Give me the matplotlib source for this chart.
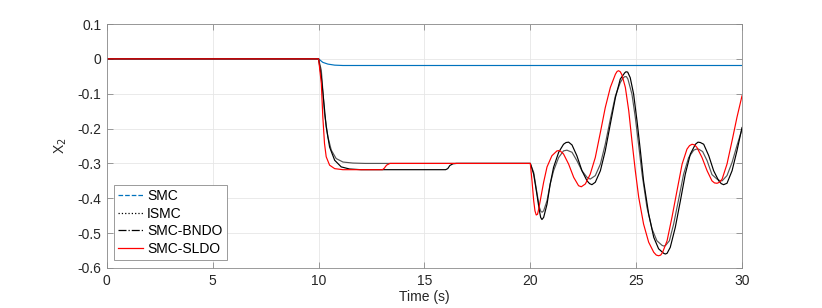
import matplotlib
matplotlib.use("Agg")
import matplotlib.pyplot as plt
from matplotlib.lines import Line2D

plt.rcParams["font.family"] = ["Liberation Sans", "DejaVu Sans"]
plt.rcParams["axes.unicode_minus"] = False

# SMC (blue)
smc_t = [0, 10, 10.2, 10.44, 10.76, 11.15, 11.6, 30]
smc_y = [0, 0, -0.010, -0.015, -0.018, -0.019, -0.019, -0.019]

# ISMC (grey, dotted)
ismc_t = [0, 10, 10.13, 10.2, 10.28, 10.44, 10.6, 10.83, 11.15, 11.62, 12.2, 20,
          20.16, 20.31, 20.43, 20.50, 20.56, 20.63, 20.79, 20.94, 21.10, 21.34, 21.57, 21.73,
          21.97, 22.20, 22.44, 22.68, 22.83, 23.07, 23.31, 23.54, 23.78, 24.02, 24.25,
          24.38, 24.46, 24.54, 24.61, 24.80, 24.96, 25.12, 25.28, 25.51, 25.75, 25.98, 26.22,
          26.30, 26.38, 26.57, 26.77, 27.01, 27.24, 27.48, 27.72, 27.84, 27.95, 28.14, 28.35,
          28.58, 28.82, 28.94, 29.06, 29.29, 29.53, 29.76, 30.00]
ismc_y = [0, 0, -0.033, -0.090, -0.157, -0.224, -0.262, -0.286, -0.296, -0.299, -0.300, -0.300,
          -0.326, -0.383, -0.426, -0.438, -0.440, -0.436, -0.407, -0.359, -0.321, -0.283, -0.264,
          -0.262, -0.268, -0.292, -0.321, -0.340, -0.345, -0.335, -0.302, -0.245, -0.173, -0.106,
          -0.068, -0.055, -0.051, -0.051, -0.058, -0.101, -0.168, -0.249, -0.331, -0.426, -0.488,
          -0.522, -0.535, -0.537, -0.536, -0.522, -0.474, -0.402, -0.331, -0.283, -0.262, -0.259,
          -0.259, -0.266, -0.292, -0.332, -0.345, -0.349, -0.350, -0.335, -0.297, -0.249, -0.202]

# SMC-BNDO (black, dash-dot)
bndo_t = [0, 10, 10.13, 10.24, 10.36, 10.52, 10.76, 11.07, 11.46, 12.0, 16.0, 16.1, 16.2,
          16.35, 16.52, 20,
          20.16, 20.31, 20.43, 20.49, 20.55, 20.63, 20.79, 20.94, 21.10, 21.34, 21.57, 21.69,
          21.81, 21.97, 22.20, 22.44, 22.68, 22.80, 22.91, 23.07, 23.31, 23.54, 23.78, 24.02,
          24.25, 24.46, 24.52, 24.60, 24.72, 24.88, 25.04, 25.20, 25.35, 25.59, 25.83, 26.06,
          26.30, 26.38, 26.46, 26.61, 26.85, 27.09, 27.32, 27.56, 27.80, 27.92, 28.03, 28.19,
          28.43, 28.66, 28.90, 29.02, 29.13, 29.29, 29.53, 29.76, 30.00]
bndo_y = [0, 0, -0.052, -0.119, -0.195, -0.253, -0.291, -0.310, -0.316, -0.318, -0.318, -0.315,
          -0.306, -0.301, -0.300, -0.300,
          -0.331, -0.388, -0.436, -0.455, -0.461, -0.455, -0.417, -0.359, -0.311, -0.268, -0.245,
          -0.240, -0.239, -0.247, -0.278, -0.321, -0.350, -0.358, -0.361, -0.354, -0.321, -0.264,
          -0.187, -0.111, -0.058, -0.040, -0.037, -0.038, -0.054, -0.101, -0.178, -0.264, -0.350,
          -0.445, -0.512, -0.545, -0.558, -0.560, -0.558, -0.541, -0.483, -0.407, -0.331, -0.273,
          -0.245, -0.239, -0.240, -0.245, -0.278, -0.321, -0.350, -0.358, -0.361, -0.357, -0.321,
          -0.264, -0.197]

# SMC-SLDO (red)
sldo_t = [0, 10, 10.13, 10.2, 10.28, 10.36, 10.52, 10.76, 11.15, 11.6, 13.02, 13.1, 13.21,
          13.37, 13.68, 20,
          20.08, 20.16, 20.22, 20.28, 20.34, 20.40, 20.47, 20.63, 20.79, 21.02, 21.26, 21.39,
          21.57, 21.81, 22.05, 22.28, 22.41, 22.60, 22.83, 23.07, 23.31, 23.54, 23.78,
          24.02, 24.10, 24.17, 24.25, 24.33, 24.49, 24.65, 24.80, 24.96, 25.12, 25.35, 25.59,
          25.83, 25.95, 26.06, 26.16, 26.25, 26.46, 26.69, 26.93, 27.17, 27.40, 27.52, 27.64,
          27.76, 27.87, 28.11, 28.35, 28.58, 28.70, 28.82, 28.94, 29.06, 29.29, 29.53, 29.76,
          30.00]
sldo_y = [0, 0, -0.071, -0.167, -0.243, -0.281, -0.305, -0.315, -0.318, -0.318, -0.318, -0.314,
          -0.305, -0.300, -0.300, -0.300,
          -0.350, -0.407, -0.436, -0.448, -0.446, -0.430, -0.407, -0.354, -0.310, -0.278, -0.264,
          -0.263, -0.273, -0.302, -0.340, -0.364, -0.367, -0.359, -0.331, -0.283, -0.211, -0.140,
          -0.082, -0.044, -0.036, -0.034, -0.037, -0.046, -0.082, -0.149, -0.235, -0.321, -0.397,
          -0.474, -0.526, -0.555, -0.563, -0.565, -0.563, -0.555, -0.522, -0.455, -0.378, -0.302,
          -0.259, -0.249, -0.245, -0.247, -0.254, -0.283, -0.321, -0.350, -0.356, -0.357, -0.354,
          -0.345, -0.302, -0.235, -0.168, -0.106]

labels = ["SMC", "ISMC", "SMC-BNDO", "SMC-SLDO"]
xticks = [0, 5, 10, 15, 20, 25, 30]
yticks = [-0.6, -0.5, -0.4, -0.3, -0.2, -0.1, 0, 0.1]
yticklabels = ["-0.6", "-0.5", "-0.4", "-0.3", "-0.2", "-0.1", "0", "0.1"]

blue = (0, 0.447, 0.741)
grey = "#555555"
axc = "#262626"

fig = plt.figure(figsize=(8.22, 3.08), dpi=100)
ax = fig.add_axes([0.130, 0.130, 0.7727, 0.792])

ax.plot(smc_t, smc_y, color=blue, lw=0.85)
ax.plot(ismc_t, ismc_y, color=grey, lw=0.85)
ax.plot(bndo_t, bndo_y, color="black", lw=0.85)
ax.plot(sldo_t, sldo_y, color="red", lw=0.85)

ax.set_xlim(0, 30)
ax.set_ylim(-0.6, 0.1)
ax.set_xticks(xticks)
ax.set_xticklabels([str(v) for v in xticks])
ax.set_yticks(yticks)
ax.set_yticklabels(yticklabels)
ax.grid(True, color="#e6e6e6", lw=0.6)
ax.set_axisbelow(True)

for s in ax.spines.values():
    s.set_color("#8a8a8a")
    s.set_linewidth(0.6)
ax.tick_params(direction="in", top=True, right=True, length=4, width=0.6,
               color="#8a8a8a", labelcolor=axc, labelsize=10, pad=4)

ax.set_xlabel("Time (s)", fontsize=10, color=axc, labelpad=2)
ax.set_ylabel("X$_2$", fontsize=10, color=axc, labelpad=6)

handles = [
    Line2D([], [], color=blue, lw=0.9, ls="--"),
    Line2D([], [], color="black", lw=0.9, ls=":"),
    Line2D([], [], color="black", lw=0.9, ls="-."),
    Line2D([], [], color="red", lw=0.9, ls="-"),
]
leg = ax.legend(handles, labels, loc="lower left", bbox_to_anchor=(0.011, 0.033),
                borderaxespad=0, fontsize=10, fancybox=False, framealpha=1,
                edgecolor="#8a8a8a", labelspacing=0.25, handlelength=1.8,
                handletextpad=0.3, borderpad=0.3)
leg.get_frame().set_linewidth(0.6)
for t in leg.get_texts():
    t.set_color("black")

fig.savefig("out.png", dpi=100)
